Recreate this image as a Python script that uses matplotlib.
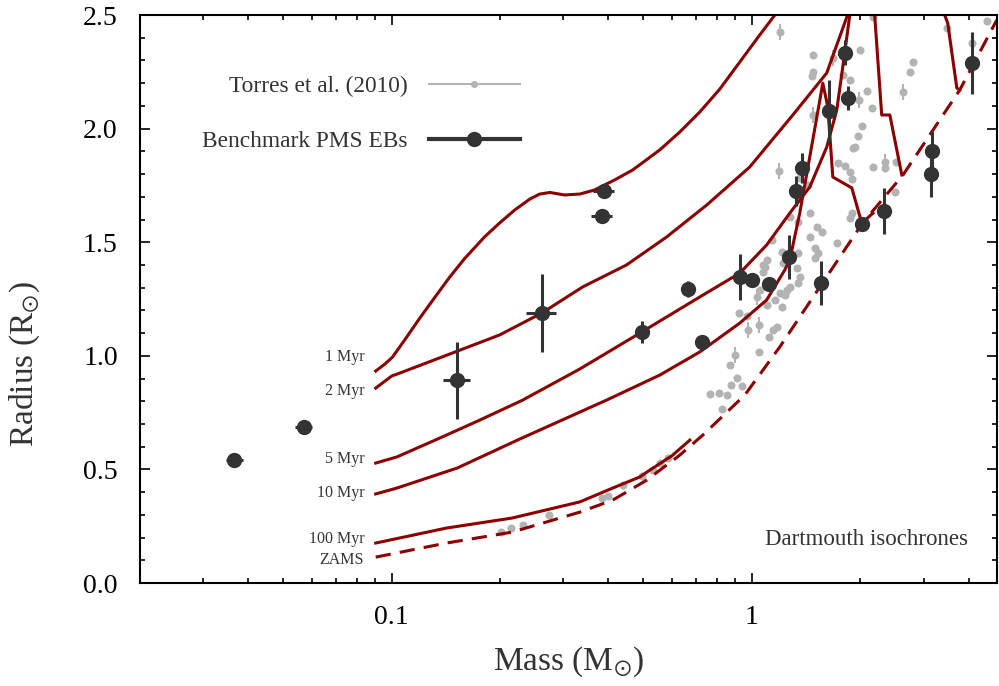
import matplotlib
matplotlib.use('Agg')
import matplotlib.pyplot as plt
from matplotlib.lines import Line2D
from matplotlib.ticker import FixedLocator, FixedFormatter, MultipleLocator, LogLocator, NullFormatter

plt.rcParams['font.family'] = ['Liberation Serif', 'DejaVu Serif']
plt.rcParams['mathtext.fontset'] = 'stix'

# Torres et al. (2010) eclipsing binaries
t_mass = [0.2016, 0.214, 0.231, 0.273, 0.383, 0.398, 0.438, 0.495, 0.531, 0.555, 0.584,
          0.764, 0.810, 0.852, 0.825, 0.869, 0.897, 0.909, 0.938, 0.874, 0.920, 0.969,
          0.975, 1.046, 1.046, 1.115, 1.144, 1.173, 1.10, 1.212, 1.159, 1.196, 1.235,
          1.251, 1.275, 1.342, 1.033, 1.073, 1.073, 1.10, 1.137, 1.052, 1.189, 1.359,
          1.431, 1.275, 1.342, 1.449, 1.516, 1.565, 1.449, 1.496, 1.526, 1.496, 1.342,
          1.212, 1.219, 1.087, 1.334, 1.359, 1.722, 1.87, 1.896, 2.497, 1.733, 1.812,
          1.87, 1.896, 2.17, 2.342, 2.342, 2.512, 1.969, 1.933, 1.907, 2.02, 1.983,
          2.154, 2.087, 1.995, 1.87, 1.789, 1.679, 1.477, 1.477, 1.468, 1.477, 1.196,
          2.626, 2.747, 2.80, 2.17, 3.48, 4.08, 4.49]
t_rad = [0.224, 0.242, 0.255, 0.299, 0.374, 0.383, 0.431, 0.471, 0.497, 0.528, 0.550,
         0.832, 0.836, 0.827, 0.766, 0.960, 1.004, 0.902, 0.867, 0.871, 1.188, 1.175,
         1.114, 1.136, 1.017, 1.083, 1.114, 1.127, 1.224, 1.215, 1.246, 1.276, 1.268,
         1.290, 1.303, 1.320, 1.259, 1.400, 1.369, 1.422, 1.510, 1.290, 1.813, 1.783,
         1.752, 1.611, 1.589, 1.628, 1.567, 1.545, 1.523, 1.474, 1.452, 1.430, 1.452,
         1.457, 1.408, 1.391, 1.386, 1.347, 1.496, 1.607, 1.628, 1.721, 1.849, 1.835,
         1.809, 1.778, 1.831, 1.853, 1.827, 1.853, 1.967, 1.919, 1.915, 2.011, 2.126,
         2.091, 2.165, 2.346, 2.214, 2.236, 2.311, 2.324, 2.249, 2.231, 2.060, 2.425,
         2.161, 2.249, 2.293, 2.490, 2.443, 2.377, 2.474]
t_rerr = [0.01] * len(t_rad)
for i in [16, 22, 23, 36, 42, 69, 76, 82, 86, 87, 88, 93]:
    t_rerr[i] = 0.035

# benchmark pre-main-sequence eclipsing binaries
bm_mass = [0.0366, 0.057, 0.152, 0.261, 0.388, 0.383, 0.495, 0.664, 0.726, 0.926, 1.0, 1.115,
           1.267, 1.325, 1.377, 1.555, 1.637, 1.812, 1.848, 2.02, 2.33, 3.16, 3.15, 4.08]
bm_rad = [0.541, 0.687, 0.893, 1.188, 1.725, 1.615, 1.105, 1.294, 1.061, 1.347, 1.334, 1.316,
          1.435, 1.725, 1.827, 1.32, 2.077, 2.333, 2.135, 1.58, 1.637, 1.90, 1.80, 2.289]
bm_merr = [0.002, 0.003, 0.013, 0.025, 0.026, 0.025, 0, 0, 0, 0, 0, 0,
           0, 0, 0, 0, 0, 0, 0, 0, 0, 0, 0, 0]
bm_rerr = [0.01, 0.01, 0.17, 0.17, 0.0, 0.0, 0.048, 0.035, 0, 0.1, 0, 0,
           0.097, 0.066, 0.066, 0.097, 0.136, 0.055, 0.053, 0, 0.1, 0.09, 0.1, 0.137]

# Dartmouth isochrones
iso_1_m = [0.0903, 0.0958, 0.1006, 0.1087, 0.1197, 0.132, 0.145, 0.159, 0.181, 0.1995,
           0.2197, 0.242, 0.2577, 0.275, 0.302, 0.333, 0.366, 0.416, 0.467, 0.555, 0.631,
           0.717, 0.815, 0.926, 1.052, 1.159, 1.212]
iso_1_r = [0.933, 0.964, 0.995, 1.07, 1.166, 1.259, 1.347, 1.426, 1.523, 1.585,
           1.642, 1.690, 1.712, 1.719, 1.708, 1.712, 1.730, 1.774, 1.818, 1.906, 1.985,
           2.073, 2.174, 2.293, 2.412, 2.50, 2.544]
iso_2_m = [0.0903, 0.1, 0.1053, 0.145, 0.1995, 0.261, 0.339, 0.449, 0.580, 0.750, 0.987,
           1.300, 1.615, 1.836, 1.87]
iso_2_r = [0.858, 0.911, 0.924, 1.008, 1.092, 1.188, 1.303, 1.40, 1.523, 1.664, 1.831,
           2.06, 2.245, 2.491, 2.544]
iso_2b_m = [3.42, 3.44, 3.50, 3.71, 3.78]
iso_2b_r = [2.566, 2.496, 2.465, 2.179, 2.17]
iso_5_m = [0.0903, 0.1034, 0.136, 0.1756, 0.231, 0.333, 0.495, 0.717, 0.926, 1.10, 1.275,
           1.449, 1.615, 1.722, 1.789, 1.87, 1.896, 2.18, 2.195, 2.295, 2.418, 2.48, 2.61]
iso_5_r = [0.528, 0.555, 0.638, 0.717, 0.805, 0.942, 1.105, 1.259, 1.364, 1.488, 1.628,
           1.743, 1.919, 2.082, 2.271, 2.496, 2.544, 2.544, 2.496, 2.06, 2.06, 1.972, 1.796]
iso_10_m = [0.0903, 0.1034, 0.152, 0.227, 0.395, 0.555, 0.717, 0.926, 1.10, 1.235, 1.275,
            1.359, 1.477, 1.575, 1.626, 1.679, 1.896, 2.02, 2.17]
iso_10_r = [0.392, 0.418, 0.506, 0.634, 0.805, 0.915, 1.017, 1.144, 1.246, 1.378, 1.422,
            1.628, 1.95, 2.20, 2.095, 1.787, 1.739, 1.584, 1.628]
iso_100_m = [0.0903, 0.142, 0.216, 0.333, 0.411, 0.489, 0.521, 0.600, 0.673]
iso_100_r = [0.176, 0.242, 0.286, 0.357, 0.418, 0.467, 0.497, 0.560, 0.629]
zams_m = [0.0903, 0.142, 0.216, 0.333, 0.411, 0.511, 0.631, 0.731, 0.956, 1.196, 1.545,
          2.03, 2.63, 3.78, 4.79]
zams_r = [0.114, 0.176, 0.224, 0.312, 0.365, 0.453, 0.563, 0.651, 0.827, 1.039, 1.303,
          1.584, 1.796, 2.17, 2.478]

iso_labels = ['1 Myr', '2 Myr', '5 Myr', '10 Myr', '100 Myr', 'ZAMS']
iso_label_r = [0.995, 0.845, 0.546, 0.396, 0.194, 0.101]

red = '#8b0000'
dark = '#333333'
grey = '#b3b3b3'

fig = plt.figure(figsize=(9.99, 6.86), dpi=100)
ax = fig.add_axes([0.1401, 0.1501, 0.858, 0.828])

ax.errorbar(t_mass, t_rad, yerr=t_rerr, fmt='o', color=grey, ms=5.8, mec='none',
            elinewidth=1.5, capsize=0, zorder=1)

lw = 2.2
ax.plot(iso_1_m, iso_1_r, color=red, lw=lw, zorder=2)
ax.plot(iso_2_m, iso_2_r, color=red, lw=lw, zorder=2)
ax.plot(iso_2b_m, iso_2b_r, color=red, lw=lw, zorder=2)
ax.plot(iso_5_m, iso_5_r, color=red, lw=lw, zorder=2)
ax.plot(iso_10_m, iso_10_r, color=red, lw=lw, zorder=2)
ax.plot(iso_100_m, iso_100_r, color=red, lw=lw, zorder=2)
ax.plot(zams_m, zams_r, color=red, lw=lw, dashes=(5, 3), zorder=2)

ax.errorbar(bm_mass, bm_rad, xerr=bm_merr, yerr=bm_rerr, fmt='o', color=dark, ms=10,
            elinewidth=2.2, capsize=0, zorder=4)

for lab, r in zip(iso_labels, iso_label_r):
    ax.text(0.0839, r, lab, ha='right', va='center', fontsize=11.5, color=dark)

ax.text(0.966, 0.0775, 'Dartmouth isochrones', transform=ax.transAxes, ha='right',
        va='center', fontsize=16.5, color=dark)

handles = [Line2D([], [], color=grey, lw=1.5, marker='o', ms=5, mec='none'),
           Line2D([], [], color=dark, lw=3, marker='o', ms=10)]
ax.legend(handles, ['Torres et al. (2010)', 'Benchmark PMS EBs'], loc='center',
          bbox_to_anchor=(0.258, 0.826), frameon=False, markerfirst=False,
          fontsize=16.8, handlelength=3.9, handletextpad=0.9, labelspacing=1.45,
          labelcolor=dark)

ax.set_xscale('log')
ax.set_xlim(0.02, 4.8)
ax.set_ylim(0, 2.5)

ax.xaxis.set_major_locator(FixedLocator([0.1, 1]))
ax.xaxis.set_major_formatter(FixedFormatter(['0.1', '1']))
ax.xaxis.set_minor_locator(LogLocator(base=10, subs=range(2, 10)))
ax.xaxis.set_minor_formatter(NullFormatter())
ax.yaxis.set_major_locator(MultipleLocator(0.5))
ax.yaxis.set_minor_locator(MultipleLocator(0.1))
ax.yaxis.set_major_formatter(matplotlib.ticker.FormatStrFormatter('%.1f'))

ax.tick_params(which='both', direction='in', top=True, right=True, width=1.2)
ax.tick_params(which='major', length=7, labelsize=20)
ax.tick_params(which='minor', length=3.5)
ax.tick_params(axis='x', pad=16)
ax.tick_params(axis='y', pad=16)
for s in ax.spines.values():
    s.set_linewidth(1.5)

ax.set_xlabel(r'Mass (M$_{\odot}$)', fontsize=24, color=dark)
ax.set_ylabel(r'Radius (R$_{\odot}$)', fontsize=24, color=dark)
ax.xaxis.set_label_coords(0.5, -0.108)
ax.yaxis.set_label_coords(-0.114, 0.386)

fig.savefig('out.png', dpi=100)
